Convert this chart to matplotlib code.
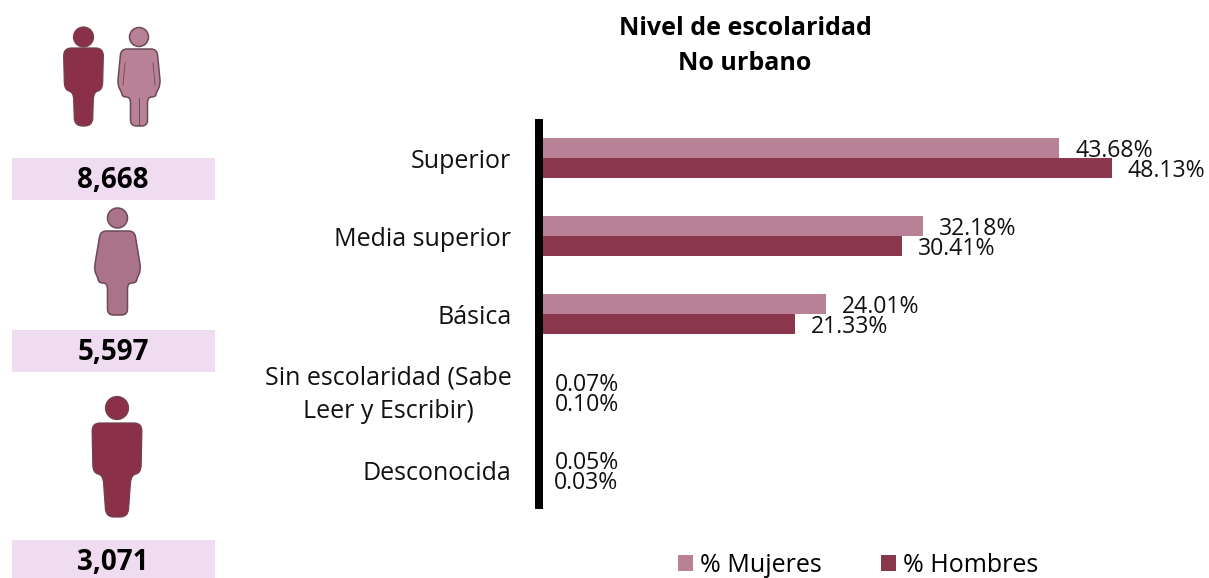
import numpy as np
import matplotlib
matplotlib.use("Agg")
import matplotlib.pyplot as plt
from matplotlib.path import Path
from matplotlib.patches import PathPatch, Circle, Rectangle
from matplotlib.transforms import Affine2D

categories = ["Superior", "Media superior", "Básica", "Sin escolaridad (Sabe\nLeer y Escribir)", "Desconocida"]
mujeres = [43.68, 32.18, 24.01, 0.07, 0.05]
hombres = [48.13, 30.41, 21.33, 0.10, 0.03]
totals = ["8,668", "5,597", "3,071"]
title_lines = ["Nivel de escolaridad", "No urbano"]
series_names = ["% Mujeres", "% Hombres"]

C_M = "#b98195"
C_H = "#8a374d"
W, H = 1209, 578
plt.rcParams["font.family"] = ["Open Sans", "DejaVu Sans"]

fig = plt.figure(figsize=(W / 100, H / 100), dpi=100, facecolor="white")

# pixel-space layer for the decorations
bg = fig.add_axes([0, 0, 1, 1])
bg.set_xlim(0, W)
bg.set_ylim(H, 0)
bg.axis("off")


def rounded(points, r):
    verts, codes = [], []
    n = len(points)
    pts = [np.array(p, float) for p in points]
    for i in range(n):
        p, a, b = pts[i], pts[i - 1], pts[(i + 1) % n]
        ra = min(r, np.linalg.norm(a - p) / 2)
        rb = min(r, np.linalg.norm(b - p) / 2)
        s = p + (a - p) / np.linalg.norm(a - p) * ra
        e = p + (b - p) / np.linalg.norm(b - p) * rb
        verts.append(s)
        codes.append(Path.MOVETO if i == 0 else Path.LINETO)
        verts += [p, e]
        codes += [Path.CURVE3, Path.CURVE3]
    verts.append(verts[0])
    codes.append(Path.CLOSEPOLY)
    return Path(verts, codes)


def man(cx, head_y, r, sw, st, sb, lw_top, lw_bot, bottom, fc, ec):
    bg.add_patch(Circle((cx, head_y), r, fc=fc, ec=ec, lw=0.9))
    pts = [(cx - sw, st), (cx + sw, st), (cx + sw - 1, sb), (cx + lw_top, sb + 2), (cx + lw_bot, bottom),
           (cx - lw_bot, bottom), (cx - lw_top, sb + 2), (cx - sw + 1, sb)]
    bg.add_patch(PathPatch(rounded(pts, 8), fc=fc, ec=ec, lw=0.9))


def woman(cx, head_y, r, sh, wide, st, wy, hem, lw, bottom, fc, ec, split=True):
    bg.add_patch(Circle((cx, head_y), r, fc=fc, ec=ec, lw=1.1))
    pts = [(cx - sh, st), (cx + sh, st), (cx + wide, wy), (cx + wide - 4, hem - 5), (cx + wide - 5, hem),
           (cx + lw, hem), (cx + lw, bottom), (cx - lw, bottom), (cx - lw, hem),
           (cx - wide + 5, hem), (cx - wide + 4, hem - 5), (cx - wide, wy)]
    bg.add_patch(PathPatch(rounded(pts, 6), fc=fc, ec=ec, lw=1.1))
    if split:
        bg.plot([cx, cx], [hem + 1, bottom - 1], color=ec, lw=0.7)
        bg.plot([cx - sh + 4, cx - sh + 2], [st + 14, wy], color=ec, lw=0.6)
        bg.plot([cx + sh - 4, cx + sh - 2], [st + 14, wy], color=ec, lw=0.6)


man(83.5, 37, 10, 20, 48, 90, 10, 9, 126, "#8a3049", "#74404f")
woman(139, 37, 9.5, 18, 21.5, 49, 85, 97, 8.5, 126, "#b98195", "#6b4a58")
woman(117.5, 218, 10, 17, 23.5, 231, 270, 283, 10, 315, "#ab7389", "#6b4a58", split=False)
man(117, 408, 11.5, 25, 423, 473, 14, 11, 517, "#8a3049", "#74404f")

for y0, y1, t in zip([158, 330, 540], [200, 372, 578], totals):
    bg.add_patch(Rectangle((12, y0), 203, y1 - y0, fc="#f0dcf0", ec="none"))
    bg.text(113, (y0 + y1) / 2 + (2 if y1 < 578 else 4), t, ha="center", va="center",
            fontsize=20, fontweight="bold", color="black")

for yy, t in zip([28.5, 63], title_lines):
    bg.text(745, yy, t, ha="center", va="center", fontsize=18, fontweight="bold", color="black")

# bar chart
ax_left, ax_right, ax_top, ax_bot = 542, 1209, 119, 509
ax = fig.add_axes([ax_left / W, 1 - ax_bot / H, (ax_right - ax_left) / W, (ax_bot - ax_top) / H])
ax.patch.set_alpha(0)
y = np.arange(len(categories))
bh = 20 / 78
b1 = ax.barh(y - bh / 2, mujeres, bh, color=C_M, linewidth=0, label=series_names[0])
b2 = ax.barh(y + bh / 2, hombres, bh, color=C_H, linewidth=0, label=series_names[1])
ax.set_xlim(0, (ax_right - ax_left) / 11.84)
ax.set_ylim(len(categories) - 0.5, -0.5)
ax.set_xticks([])
for s in ["top", "right", "bottom"]:
    ax.spines[s].set_visible(False)
sp = ax.spines["left"]
sp.set_linewidth(8 * 0.72)
sp.set_color("black")
sp.set_capstyle("butt")
sp.set_position(("outward", 3.5 * 0.72))
ax.set_yticks(y, categories)
ax.tick_params(axis="y", length=0, pad=19.5, labelsize=18, labelcolor="#111111")
for lab in ax.get_yticklabels():
    lab.set_multialignment("center")
    lab.set_linespacing(1.45)
    shift = 4.5 if "\n" in lab.get_text() else 0
    lab.set_transform(lab.get_transform() + Affine2D().translate(0, shift))

for bars, vals in ((b1, mujeres), (b2, hombres)):
    for rect, v in zip(bars, vals):
        off = 11.5 if v > 1 else 8.5
        ax.annotate(f"{v:.2f}%", (v, rect.get_y() + rect.get_height() / 2), xytext=(off, -2.5),
                    textcoords="offset points", ha="left", va="center", fontsize=16.6, color="#111111",
                    annotation_clip=False)

leg = fig.legend(handles=[b1, b2], labels=series_names, ncol=2, frameon=False, fontsize=18,
                 loc="center left", bbox_to_anchor=(678 / W, 1 - 565 / H), borderpad=0, borderaxespad=0,
                 handlelength=0.6, handleheight=0.6, handletextpad=0.3, columnspacing=2.34)
for h in leg.legend_handles:
    h.set_edgecolor("none")

fig.savefig("out.png", dpi=100)
